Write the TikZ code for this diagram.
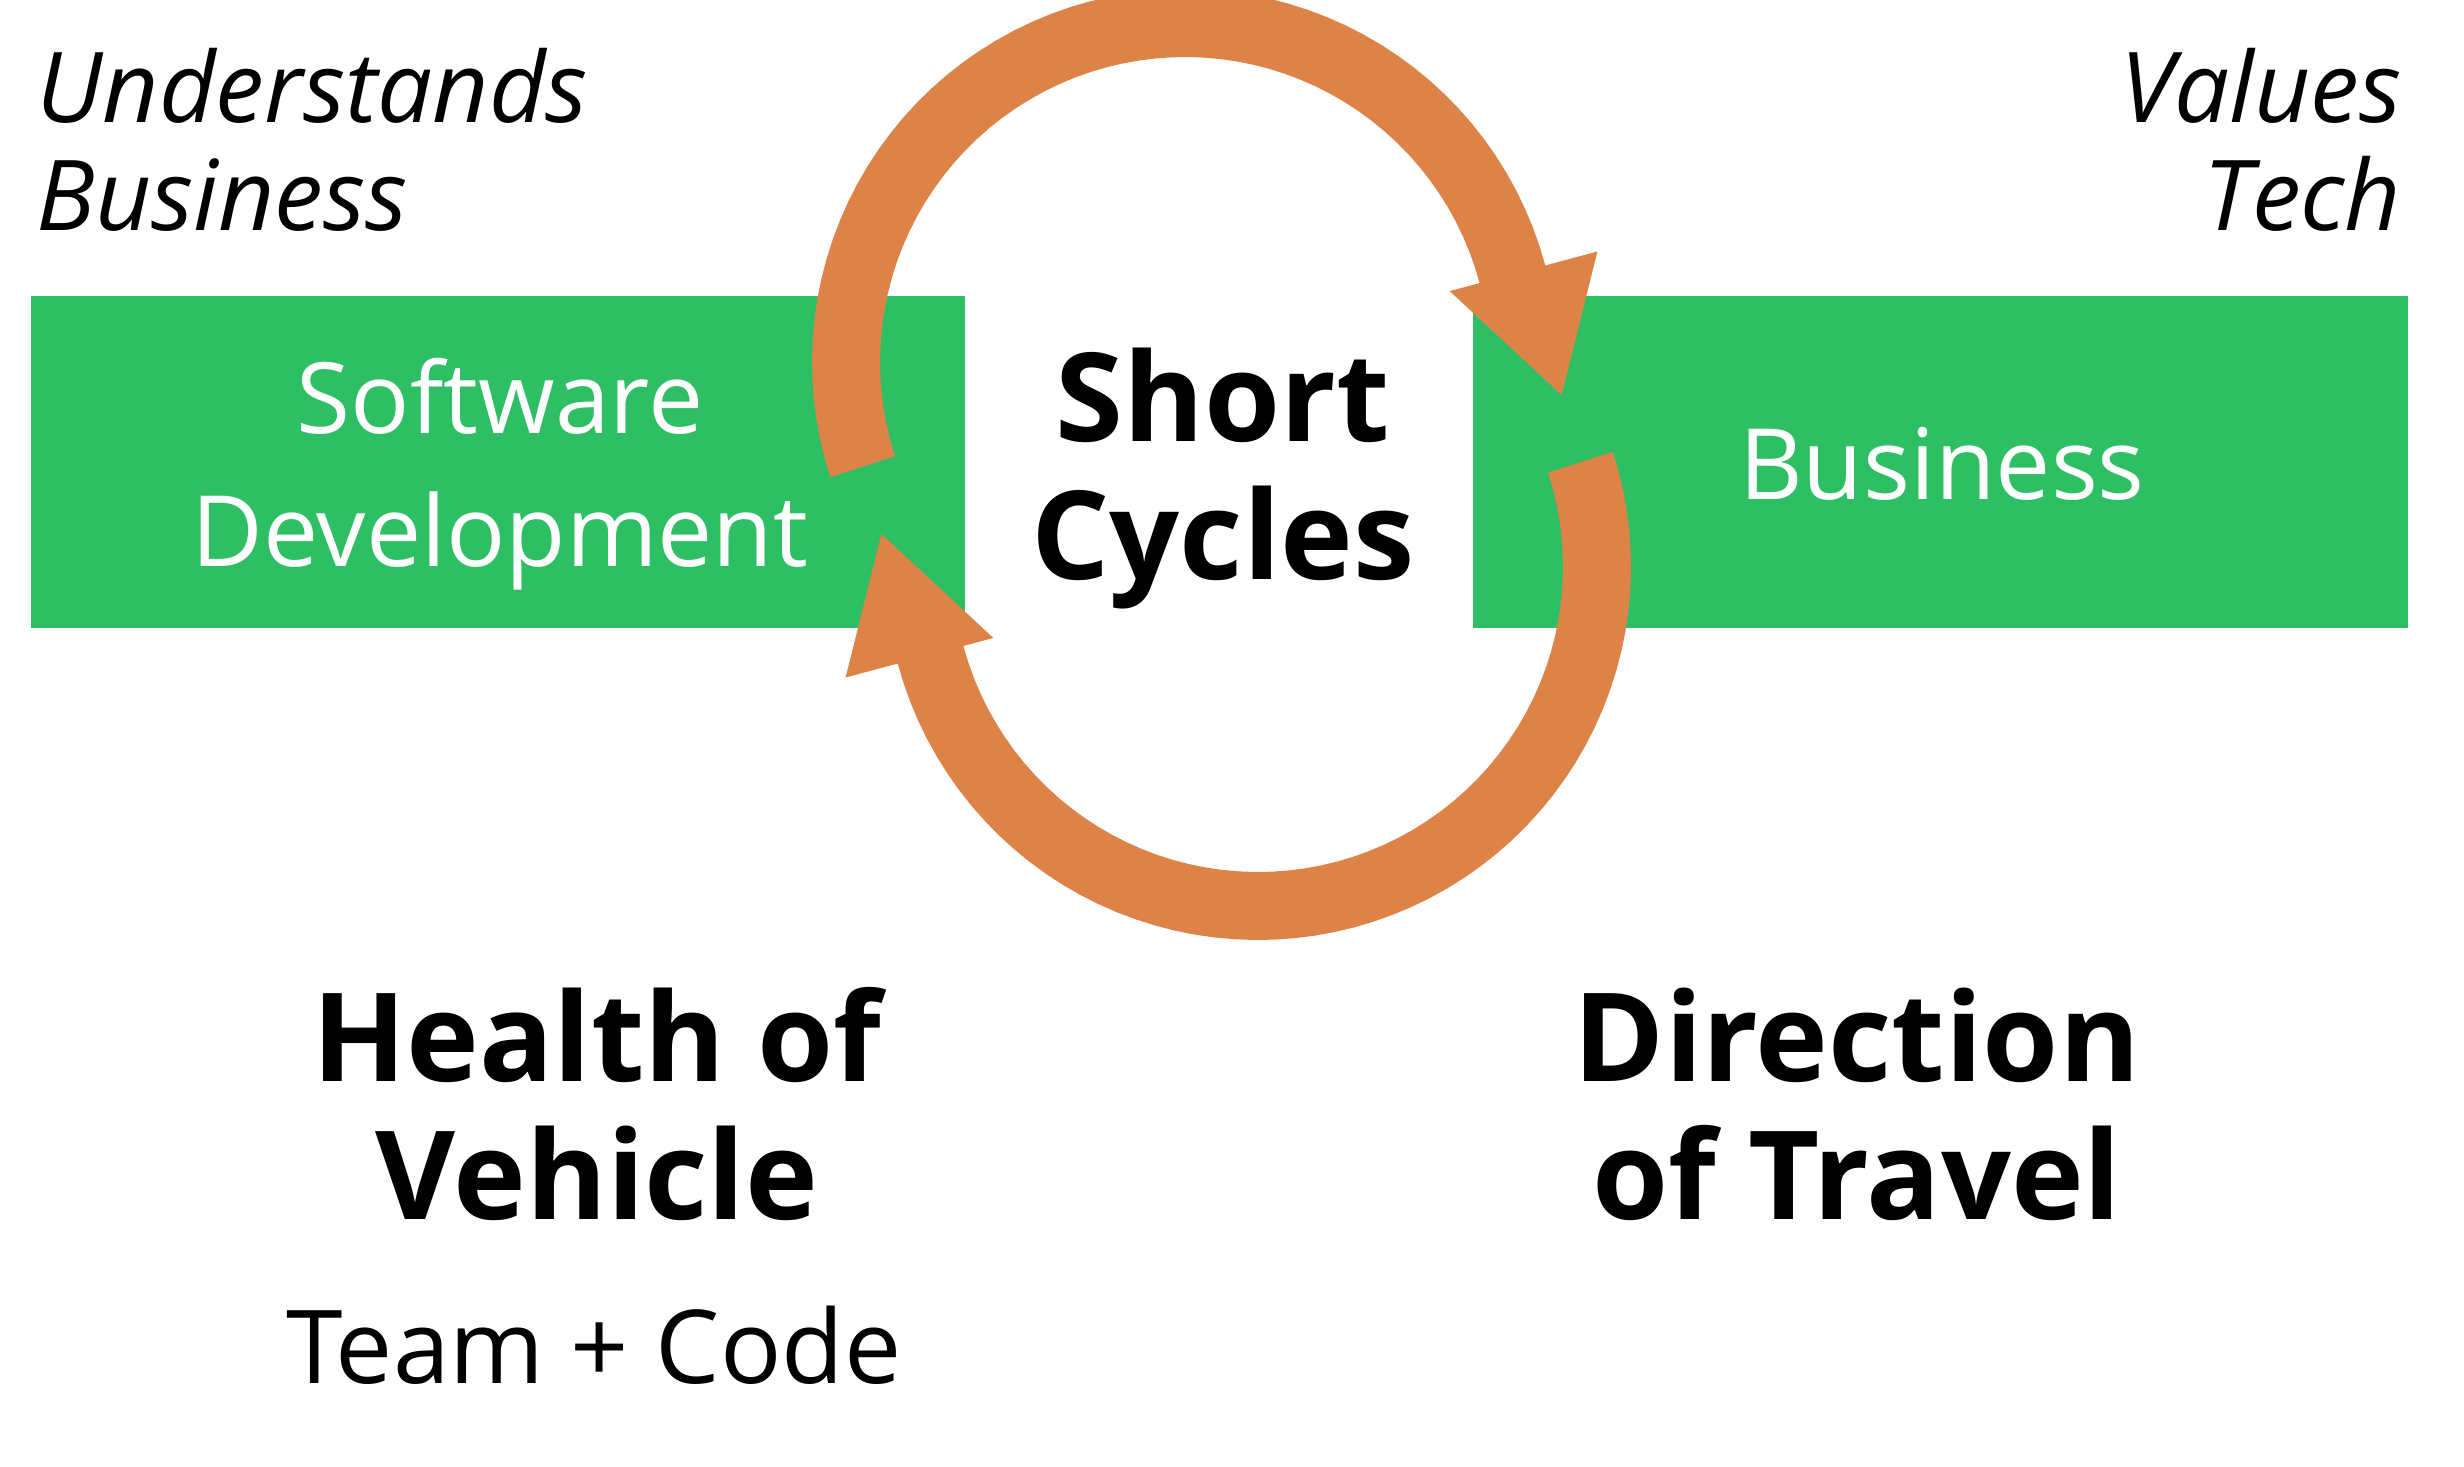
\documentclass[tikz,border=0pt]{standalone}
\usepackage{fontspec}
\setmainfont{Open Sans}
\usepackage{tikz}
\usetikzlibrary{positioning}
\definecolor{boxgreen}{RGB}{46,190,99}
\definecolor{cycleorange}{RGB}{222,131,72}

\begin{document}
\begin{tikzpicture}[x=0.01cm, y=-0.01cm,
    greenbox/.style={fill=boxgreen, draw=none, inner sep=0pt, minimum height=3.32cm},
    boxtext/.style={white, align=center, anchor=base, inner sep=0pt,
      font=\fontsize{28}{37.8}\selectfont},
    sidetext/.style={anchor=base, inner sep=0pt, font=\fontsize{27.8}{30.7}\selectfont\itshape},
    bigtext/.style={align=center, anchor=base, inner sep=0pt,
      font=\fontsize{35}{39}\selectfont\bfseries},
    cyclearrow/.style={fill=cycleorange, draw=none}]
  \useasboundingbox (0,0) rectangle (2464,1466);

  % the two boxes
  \node[greenbox, minimum width=9.34cm] (devbox) at (498,462) {};
  \node[greenbox, minimum width=9.35cm] (bizbox) at (1940.5,462) {};
  \node[boxtext] (devtext) at (500,566) {Software\\Development};
  \node[boxtext] (biztext) at (1942,499) {Business};

  % side remarks
  \node[sidetext, anchor=base west, align=left] (understands) at (36,230) {Understands\\Business};
  \node[sidetext, anchor=base east, align=right] (values) at (2402,230) {Values\\Tech};

  % the loop: one arrow, and the same turned half round
  \foreach \rot in {0,180}{
    \begin{scope}[rotate around={\rot:(1221.5,464.5)}, shift={(1185,362)}]
      \fill[cyclearrow] plot[domain=162:345, samples=60] ({373*cos(\x)}, {373*sin(\x)})
        -- (345:427) -- (5:378) -- (345:274)
        -- plot[domain=345:162, samples=60] ({305*cos(\x)}, {305*sin(\x)}) -- cycle;
    \end{scope}
  }
  \node[bigtext] (cycles) at (1223,579) {Short\\Cycles};

  % below
  \node[bigtext] (health) at (597,1219) {Health of\\Vehicle};
  \node[anchor=base, inner sep=0pt, font=\fontsize{29}{31}\selectfont] (team) at (594,1383) {Team + Code};
  \node[bigtext] (direction) at (1857,1219) {Direction\\of Travel};
\end{tikzpicture}
\end{document}
